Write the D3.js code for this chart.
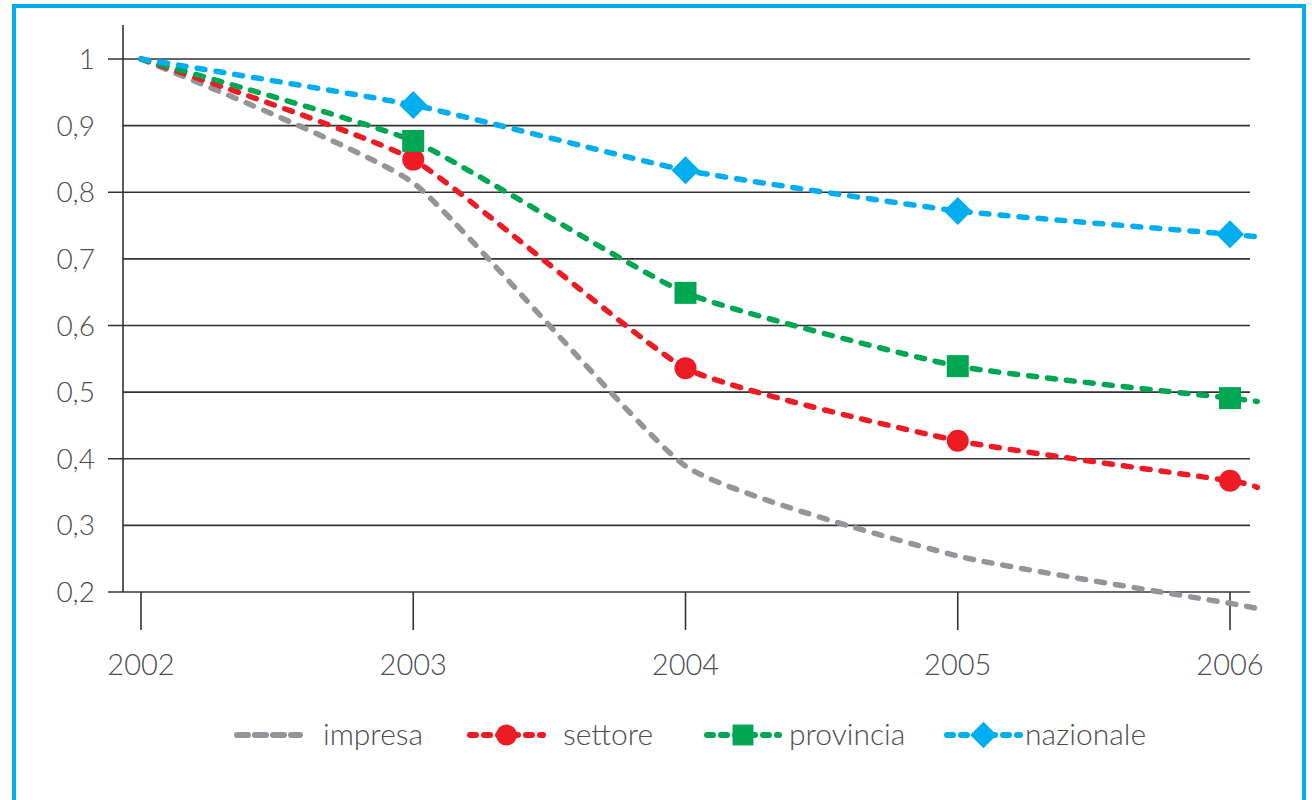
<!DOCTYPE html>
<html><head><meta charset="utf-8">
<script src="https://cdn.jsdelivr.net/npm/d3@7/dist/d3.min.js"></script>
<style>html,body{margin:0;padding:0;background:#fff;}svg{display:block;}</style>
</head><body>
<svg id="chart" width="1312" height="800"></svg>
<script>
const years = [2002, 2003, 2004, 2005, 2006];
const tailYear = 2006.1;
const impresa   = [1.0, 0.814, 0.389, 0.254, 0.183];
const settore   = [1.0, 0.849, 0.536, 0.427, 0.367];
const provincia = [1.0, 0.877, 0.649, 0.539, 0.491];
const nazionale = [1.0, 0.931, 0.833, 0.772, 0.737];
const tailValues = [0.175, 0.357, 0.486, 0.733];
const seriesNames = ["impresa", "settore", "provincia", "nazionale"];
const seriesColors = ["#939598", "#ed1c24", "#00a651", "#00aeef"];
const seriesMarkers = ["none", "circle", "square", "diamond"];
const yTicks = [0.2, 0.3, 0.4, 0.5, 0.6, 0.7, 0.8, 0.9, 1];
const yTickLabels = ["0,2", "0,3", "0,4", "0,5", "0,6", "0,7", "0,8", "0,9", "1"];

const svg = d3.select("#chart");
const font = "Lato, 'Open Sans', sans-serif";
const textColor = "#4d4d4f";

// frame
svg.append("rect").attr("x", 14).attr("y", 6).attr("width", 1290).attr("height", 830)
  .attr("fill", "none").attr("stroke", "#00aeef").attr("stroke-width", 4);

const x = d3.scaleLinear().domain([2002, 2006]).range([141, 1230]);
const y = d3.scaleLinear().domain([0.2, 1]).range([592, 59]);
const axisLeftX = 123, gridRight = 1250;

const g = svg.append("g");
yTicks.forEach((t, i) => {
  const ext = (i % 2 === 0);
  g.append("line").attr("x1", ext ? 108 : axisLeftX).attr("x2", gridRight)
    .attr("y1", y(t)).attr("y2", y(t)).attr("stroke", "#333").attr("stroke-width", 1.6);
  g.append("text").attr("x", 95).attr("y", y(t)).attr("dy", "0.36em")
    .attr("text-anchor", "end").attr("font-family", font).attr("font-size", 28)
    .attr("font-weight", 300).attr("fill", textColor).text(yTickLabels[i]);
});
g.append("line").attr("x1", axisLeftX).attr("x2", axisLeftX).attr("y1", 25).attr("y2", 592)
  .attr("stroke", "#333").attr("stroke-width", 1.6);
years.forEach(yr => {
  g.append("line").attr("x1", x(yr)).attr("x2", x(yr)).attr("y1", 592).attr("y2", 630)
    .attr("stroke", "#333").attr("stroke-width", 1.6);
  g.append("text").attr("x", x(yr)).attr("y", 665).attr("dy", "0.36em")
    .attr("text-anchor", "middle").attr("font-family", font).attr("font-size", 29)
    .attr("font-weight", 300).attr("fill", textColor).text(yr);
});

const allSeries = [impresa, settore, provincia, nazionale];
const line = d3.line().x(d => x(d[0])).y(d => y(d[1])).curve(d3.curveCardinal.tension(0.55));

function drawMarker(sel, type, cx, cy, color, s) {
  if (type === "circle") sel.append("circle").attr("cx", cx).attr("cy", cy).attr("r", 11 * s).attr("fill", color);
  else if (type === "square") sel.append("rect").attr("x", cx - 11 * s).attr("y", cy - 11 * s)
    .attr("width", 22 * s).attr("height", 22 * s).attr("fill", color);
  else if (type === "diamond") sel.append("path")
    .attr("d", `M${cx},${cy - 14 * s}L${cx + 14 * s},${cy}L${cx},${cy + 14 * s}L${cx - 14 * s},${cy}Z`)
    .attr("fill", color);
}

allSeries.forEach((vals, i) => {
  const pts = years.map((yr, j) => [yr, vals[j]]);
  pts.push([tailYear, tailValues[i]]);
  svg.append("path").datum(pts).attr("d", line).attr("fill", "none")
    .attr("stroke", seriesColors[i]).attr("stroke-width", 5.5)
    .attr("stroke-dasharray", "8 11").attr("stroke-linecap", "round");
  if (seriesMarkers[i] !== "none") {
    years.slice(1).forEach((yr, j) => drawMarker(svg, seriesMarkers[i], x(yr), y(vals[j + 1]), seriesColors[i], 1));
  }
});

// legend
const legendY = 735;
const legendItems = [
  {x0: 237, x1: 300, tx: 323},
  {x0: 470, x1: 543, tx: 563},
  {x0: 707, x1: 779, tx: 789},
  {x0: 947, x1: 1020, tx: 1025}
];
legendItems.forEach((it, i) => {
  svg.append("line").attr("x1", it.x0).attr("x2", it.x1).attr("y1", legendY).attr("y2", legendY)
    .attr("stroke", seriesColors[i]).attr("stroke-width", 6)
    .attr("stroke-dasharray", i === 0 ? "11 7" : "6 8").attr("stroke-linecap", "round");
  if (seriesMarkers[i] !== "none") drawMarker(svg, seriesMarkers[i], (it.x0 + it.x1) / 2, legendY, seriesColors[i], 0.95);
  svg.append("text").attr("x", it.tx).attr("y", legendY).attr("dy", "0.32em")
    .attr("font-family", font).attr("font-size", 30).attr("font-weight", 300)
    .attr("fill", textColor).text(seriesNames[i]);
});
</script>
</body></html>
